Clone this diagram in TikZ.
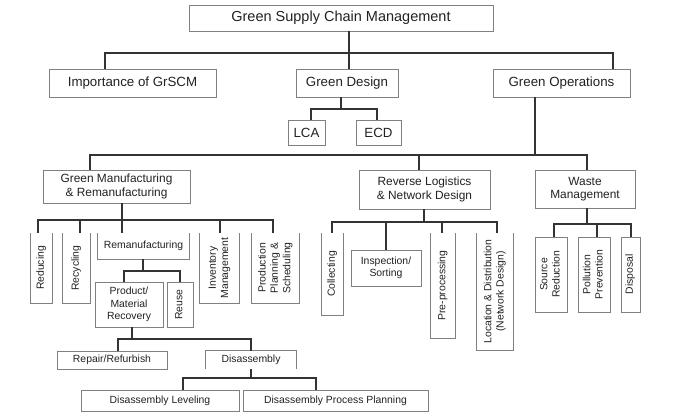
\documentclass[tikz,border=0pt]{standalone}
\usepackage{fontspec}
\setmainfont{Liberation Sans}
\usepackage{graphicx}
\definecolor{boxc}{HTML}{808080}
\definecolor{linec}{HTML}{333333}
\definecolor{txtc}{HTML}{222222}
\newcommand{\rotlbl}[1]{\rotatebox{90}{\begin{tabular}{@{}c@{}}#1\end{tabular}}}
\begin{document}
\begin{tikzpicture}[x=1pt,y=-1pt,
  box/.style={draw=boxc, line width=0.8pt, inner sep=0pt, align=center, text=txtc},
  obox/.style={inner sep=0pt, align=center, text=txtc},
  edge/.style={draw=boxc, line width=0.8pt},
  conn/.style={draw=linec, line width=1.2pt},
  fa/.style={font=\fontsize{14.5}{17}\selectfont},
  fb/.style={font=\fontsize{13.3}{15}\selectfont},
  fc/.style={font=\fontsize{11.9}{13.3}\selectfont},
  fd/.style={font=\fontsize{10.4}{12.4}\selectfont},
  sz/.style 2 args={minimum width=#1pt, minimum height=#2pt}]
\useasboundingbox[fill=white] (0,0) rectangle (681,412);

% level 0/1
\node[box,fa,sz={304}{26}] (root) at (341,18) {Green Supply Chain Management};
\node[box,fb,sz={167}{28}] (imp) at (132.5,83) {Importance of GrSCM};
\node[box,fb,sz={102}{28}] (gd) at (347,83) {Green Design};
\node[box,fb,sz={137}{28}] (go) at (561.5,83) {Green Operations};
\node[box,fb,sz={37}{25}] (lca) at (306.5,132.5) {LCA};
\node[box,fb,sz={45}{25}] (ecd) at (378.5,132.5) {ECD};

% level 2
\node[box,fc,sz={147}{33}] (gmr) at (116.5,186.5) {Green Manufacturing\\\& Remanufacturing};
\node[box,fc,sz={131}{39}] (rl) at (424.5,189.5) {Reverse Logistics\\\& Network Design};
\node[box,fc,sz={100}{38}] (wm) at (585,189) {Waste\\Management};

% manufacturing branch
\node[obox,fd,sz={21}{70}] (red) at (41.5,268) {\rotlbl{Reducing}};
\node[obox,fd,sz={27}{70}] (rec) at (76.5,268) {\rotlbl{Recycling}};
\node[obox,fd,sz={91}{26}] (reman) at (143.5,246) {Remanufacturing};
\node[obox,fd,sz={39}{70}] (inv) at (219.5,268) {\rotlbl{Inventory\\Management}};
\node[obox,fd,sz={47}{70}] (pps) at (275.5,268) {\rotlbl{Production\\Planning \&\\Scheduling}};
\node[box,fd,sz={68}{45}] (pmr) at (129,304.5) {Product/\\Material\\Recovery};
\node[box,fd,sz={26}{45}] (reuse) at (180,304.5) {\rotlbl{Reuse}};
\node[box,fd,sz={110}{18}] (rep) at (112,360) {Repair/Refurbish};
\node[obox,fd,sz={90}{18}] (dis) at (251,360) {Disassembly};
\node[box,fd,sz={158}{21}] (dl) at (160,400.5) {Disassembly Leveling};
\node[box,fd,sz={185}{21}] (dpp) at (335.5,400.5) {Disassembly Process Planning};

% reverse logistics branch
\node[obox,fd,sz={21}{82}] (col) at (332.5,274) {\rotlbl{Collecting}};
\node[box,fd,sz={70}{36}] (ins) at (386,268) {Inspection/\\Sorting};
\node[obox,fd,sz={24}{105}] (pre) at (443,285.5) {\rotlbl{Pre-processing}};
\node[obox,fd,sz={36}{117}] (loc) at (495,291.5) {\rotlbl{Location \& Distribution\\(Network Design)}};

% waste branch
\node[box,fd,sz={32}{75}] (sr) at (551,274.5) {\rotlbl{Source\\Reduction}};
\node[box,fd,sz={32}{75}] (pp) at (594,274.5) {\rotlbl{Pollution\\Prevention}};
\node[box,fd,sz={19}{75}] (dsp) at (630.5,274.5) {\rotlbl{Disposal}};

% open boxes
\foreach \n in {red,rec,reman,inv,pps,col,pre,loc}
  \draw[edge] (\n.north west) -- (\n.south west) -- (\n.south east) -- (\n.north east);
\draw[edge] (dis.south west) -- (dis.north west) -- (dis.north east) -- (dis.south east);

% connectors
\coordinate (j0) at (349,53);
\draw[conn] ([xshift=8pt]root.south) -- (j0);
\draw[conn] ([xshift=-27.5pt]imp.north) |- (j0) -| ([xshift=51.5pt]go.north);
\draw[conn] (j0) -- ([xshift=2pt]gd.north);

\coordinate (j1) at (341,109);
\draw[conn] ([xshift=-6pt]gd.south) -- (j1);
\draw[conn] ([xshift=4.5pt]lca.north) |- (j1) -| ([xshift=-1.5pt]ecd.north);

\coordinate (j2) at (535,155);
\draw[conn] ([xshift=-26.5pt]go.south) -- (j2);
\draw[conn] ([xshift=-26.5pt]gmr.north) |- (j2) -| ([xshift=2pt]wm.north);
\draw[conn] ([xshift=-5.5pt]rl.north) -- ([xshift=-5.5pt]rl.north |- j2);

\coordinate (j3) at (122,220);
\draw[conn] ([xshift=5.5pt]gmr.south) -- ([xshift=-21.5pt]reman.north);
\draw[conn] ([xshift=-3.5pt]red.north) |- (j3) -| ([xshift=-2.5pt]pps.north);
\draw[conn] ([xshift=3.5pt]rec.north) -- ([xshift=3.5pt]rec.north |- j3);
\draw[conn] ([xshift=0.5pt]inv.north) -- ([xshift=0.5pt]inv.north |- j3);

\coordinate (j4) at (143,271);
\draw[conn] ([xshift=-0.5pt]reman.south) -- (j4);
\draw[conn] ([xshift=-5pt]pmr.north) |- (j4) -| (reuse.north);

\coordinate (j5) at (132,339);
\draw[conn] ([xshift=3pt]pmr.south) -- (j5);
\draw[conn] ([xshift=6pt]rep.north) |- (j5) -| (dis.north);

\coordinate (j6) at (251,378);
\draw[conn] (dis.south) -- (j6);
\draw[conn] ([xshift=23pt]dl.north) |- (j6) -| ([xshift=-19.5pt]dpp.north);

\coordinate (j7) at (424,222);
\draw[conn] ([xshift=-0.5pt]rl.south) -- (j7);
\draw[conn] ([xshift=-0.5pt]col.north) |- (j7) -| ([xshift=2pt]loc.north);
\draw[conn] (ins.north) -- (ins.north |- j7);
\draw[conn] ([xshift=-1pt]pre.north) -- ([xshift=-1pt]pre.north |- j7);

\coordinate (j8) at (587,224);
\draw[conn] ([xshift=2pt]wm.south) -- (j8);
\draw[conn] ([xshift=3pt]sr.north) |- (j8) -| ([xshift=0.5pt]dsp.north);
\draw[conn] ([xshift=3pt]pp.north) -- ([xshift=3pt]pp.north |- j8);
\end{tikzpicture}
\end{document}
